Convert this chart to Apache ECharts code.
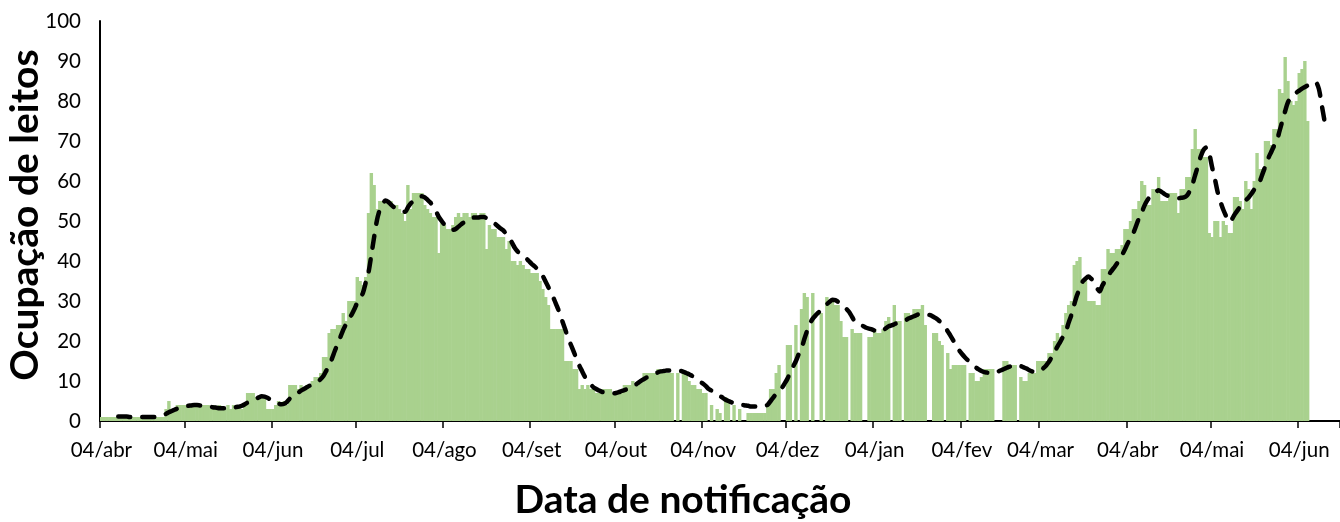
<!DOCTYPE html>
<html>
<head>
<meta charset="utf-8">
<script src="https://cdn.jsdelivr.net/npm/echarts@6/dist/echarts.min.js"></script>
<style>
html,body{margin:0;padding:0;background:#fff;}
#chart{width:1340px;height:522px;}
</style>
</head>
<body>
<div id="chart"></div>
<script>
// ---- data ----
const startDate = [2020, 3, 4];           // 04/abr/2020
const dayCount = 441;                     // days shown on the axis
const monthNames = ['jan','fev','mar','abr','mai','jun','jul','ago','set','out','nov','dez'];
const tickDay = '04';

// daily bed occupancy (bars), from 04/abr/2020
const occupancy = [
1,1,1,1,1,1,1,1,1,1,
1,1,1,1,1,1,1,1,1,1,
1,1,1,3,5,3,3,4,4,4,
4,4,4,4,4,4,4,4,4,3,
4,3,4,3,3,4,3,4,3,4,
3,4,7,7,7,6,6,6,6,3,
3,3,4,5,4,5,4,9,9,9,
8,9,8,9,9,10,11,11,12,16,
16,22,23,23,24,24,27,25,30,30,
30,36,35,34,36,52,62,59,53,55,
55,55,55,55,54,54,53,52,50,59,
53,57,57,57,57,54,53,52,51,51,
42,50,49,48,48,49,51,52,51,52,
52,51,52,52,51,52,52,43,49,48,
48,46,46,46,43,45,40,40,39,40,
39,38,38,37,37,37,35,33,31,29,
23,23,23,23,23,15,15,15,13,13,
8,9,8,9,8,8,7,7,8,8,
8,8,7,7,7,7,9,9,9,10,
9,10,10,12,12,12,12,12,13,13,
12,12,12,12,0,12,0,12,12,10,
9,9,8,8,7,7,0,4,0,3,
2,0,6,5,0,4,0,3,0,0,
2,2,2,2,2,2,2,4,8,8,
12,14,0,0,19,19,0,24,0,28,
32,31,0,32,0,0,27,0,31,30,
30,29,29,25,21,21,0,23,22,22,
22,0,0,21,21,23,22,22,23,25,
26,0,29,25,25,0,27,27,26,28,
28,28,29,24,0,0,22,22,20,19,
0,17,13,14,14,14,14,14,0,12,
12,10,10,11,13,13,13,13,0,0,
0,15,15,14,14,14,0,11,10,10,
12,12,12,15,15,15,15,17,17,20,
22,21,24,27,29,30,39,40,41,35,
36,30,30,30,29,29,38,38,43,42,
42,43,43,44,48,48,50,53,53,55,
60,59,54,54,58,58,61,55,55,55,
57,57,57,52,58,58,61,61,68,73,
68,68,66,66,47,46,50,50,46,50,
49,47,47,56,56,55,53,60,58,53,
60,67,63,63,70,70,69,73,73,83,
82,91,85,80,79,80,87,88,90,75
];

// moving average (dashed line), same day index
const movingAvg = [
null,null,null,null,null,null,1.1,1.1,1.1,1.1,
1.0,1.0,1.0,1.0,1.0,1.0,1.0,1.0,1.0,1.0,
1.1,1.3,1.5,1.8,2.2,2.5,2.8,3.1,3.3,3.5,
3.7,3.8,3.9,4.0,4.0,3.9,3.8,3.7,3.6,3.5,
3.4,3.3,3.2,3.2,3.2,3.2,3.2,3.3,3.5,3.6,
3.8,4.2,4.6,5.0,5.3,5.6,5.9,6.2,6.1,5.8,
5.4,4.9,4.5,4.3,4.2,4.3,4.8,5.6,6.3,6.7,
7.1,7.6,8.0,8.4,8.8,9.0,9.3,9.8,10.5,11.3,
12.6,14.0,15.6,17.5,19.2,21.0,22.8,24.2,25.6,26.6,
28.0,29.6,30.7,32.0,34.6,37.2,41.5,46.0,50.2,52.8,
54.2,55.1,54.8,54.1,53.5,53.0,52.6,52.4,52.3,53.4,
54.4,55.0,55.6,55.9,56.2,55.9,55.3,54.6,53.7,52.4,
51.0,50.0,49.1,48.4,48.0,47.8,48.0,48.6,49.2,49.7,
50.2,50.6,50.8,50.9,50.9,51.0,51.0,50.7,50.3,49.9,
49.3,48.7,48.1,47.6,46.7,45.8,44.6,43.3,42.4,41.8,
41.2,40.7,40.0,39.3,38.7,38.0,37.3,36.2,34.8,33.4,
31.9,30.4,28.7,27.0,24.8,22.8,20.7,19.0,17.3,15.5,
13.8,12.4,11.0,10.0,9.2,8.4,8.0,7.6,7.3,7.1,
7.0,6.9,6.9,7.0,7.2,7.5,7.7,8.0,8.4,8.7,
9.1,9.6,10.1,10.5,10.9,11.2,11.5,11.8,12.2,12.4,
12.5,12.6,12.6,12.6,12.6,12.5,12.5,12.3,12.0,11.7,
11.3,10.9,10.4,9.8,9.3,8.7,8.0,7.6,7.1,6.6,
6.2,5.8,5.3,5.0,4.7,4.4,4.3,4.1,4.0,3.9,
3.8,3.6,3.6,3.6,3.6,3.6,3.7,4.1,5.0,5.9,
6.8,7.6,8.3,9.4,10.6,12.1,13.6,15.0,16.7,18.2,
20.5,22.6,24.4,25.6,26.4,27.1,27.8,28.5,29.2,29.8,
30.3,30.2,29.8,29.4,28.7,28.0,27.2,26.0,24.8,24.4,
24.0,23.7,23.3,23.1,22.9,22.6,22.4,22.3,22.6,23.2,
23.7,23.9,24.2,24.5,24.7,25.0,25.2,25.6,25.9,26.2,
26.5,26.8,26.9,26.8,26.6,26.4,26.0,25.6,25.0,24.3,
23.5,22.4,21.3,20.1,18.8,17.7,16.8,16.0,15.3,14.7,
14.0,13.4,12.9,12.5,12.2,12.1,12.0,11.9,12.1,12.4,
12.7,13.0,13.3,13.6,13.8,13.9,14.0,13.7,13.4,13.1,
12.7,12.4,12.3,12.3,12.6,13.2,13.9,14.8,16.0,17.3,
18.6,19.8,21.1,22.4,24.6,26.6,29.2,31.5,33.2,34.9,
35.6,36.1,35.6,34.8,33.3,32.4,33.9,35.0,36.2,37.3,
38.2,39.2,40.2,41.5,42.9,44.4,45.6,47.0,48.8,50.7,
52.2,53.9,55.2,56.2,56.9,57.3,57.7,57.3,56.8,56.4,
56.2,56.0,55.9,55.7,55.8,55.9,56.3,57.4,59.1,61.5,
63.8,66.2,67.8,68.4,66.8,63.5,60.5,57.2,54.8,52.8,
51.2,49.8,50.4,51.6,52.6,53.6,54.5,55.2,55.9,56.8,
57.9,59.0,60.0,61.9,63.8,65.7,67.2,68.7,70.0,72.5,
75.0,77.5,79.7,80.8,81.5,82.1,82.6,83.1,83.5,83.9,
84.3,84.7,84.6,83.0,79.0,75.0
];

const yTitle = 'Ocupação de leitos';
const xTitle = 'Data de notificação';

// ---- build categories ----
const categories = [];
const t0 = Date.UTC(startDate[0], startDate[1], startDate[2]);
for (let i = 0; i < dayCount; i++) {
  const d = new Date(t0 + i * 86400000);
  const dd = String(d.getUTCDate()).padStart(2, '0');
  categories.push(dd + '/' + monthNames[d.getUTCMonth()] + '/' + d.getUTCFullYear());
}
const isTick = (idx, val) => val.slice(0, 2) === tickDay;

const FONT = 'Lato';
const chart = echarts.init(document.getElementById('chart'), null, {renderer: 'canvas'});
chart.setOption({
  animation: false,
  backgroundColor: '#ffffff',
  grid: {left: 100, right: 0, top: 21, bottom: 101, containLabel: false, outerBoundsMode: 'none'},
  xAxis: {
    type: 'category',
    data: categories,
    boundaryGap: true,
    axisLine: {show: true, lineStyle: {color: '#000', width: 2}},
    axisTick: {show: true, interval: isTick, length: 7, lineStyle: {color: '#000', width: 1.5}},
    axisLabel: {
      interval: isTick,
      formatter: v => v.slice(0, 6),
      fontFamily: FONT, fontSize: 20.5, color: '#000', margin: 19
    },
    splitLine: {show: false},
    name: xTitle,
    nameLocation: 'middle',
    nameGap: 60,
    nameMoveOverlap: false,
    nameTextStyle: {fontFamily: FONT, fontSize: 39, fontWeight: 'bold', color: '#000', padding: [0, 74, 0, 0]}
  },
  yAxis: {
    type: 'value',
    min: 0, max: 100, interval: 10,
    axisLine: {show: true, lineStyle: {color: '#000', width: 2}},
    axisTick: {show: false},
    splitLine: {show: false},
    axisLabel: {fontFamily: FONT, fontSize: 20.5, color: '#000', margin: 19},
    name: yTitle,
    nameLocation: 'middle',
    nameRotate: 90,
    nameGap: 55,
    nameMoveOverlap: false,
    nameTextStyle: {fontFamily: FONT, fontSize: 39, fontWeight: 'bold', color: '#000', padding: [0, 0, 0, 12]}
  },
  series: [
    {
      type: 'bar',
      data: occupancy,
      barWidth: 3.4,
      itemStyle: {color: '#a9d18e'},
      z: 2
    },
    {
      type: 'line',
      data: movingAvg,
      smooth: 0.3,
      showSymbol: false,
      connectNulls: false,
      lineStyle: {color: '#000', width: 4.5, type: [12, 12], cap: 'round', join: 'round'},
      z: 3
    }
  ]
});
</script>
</body>
</html>
